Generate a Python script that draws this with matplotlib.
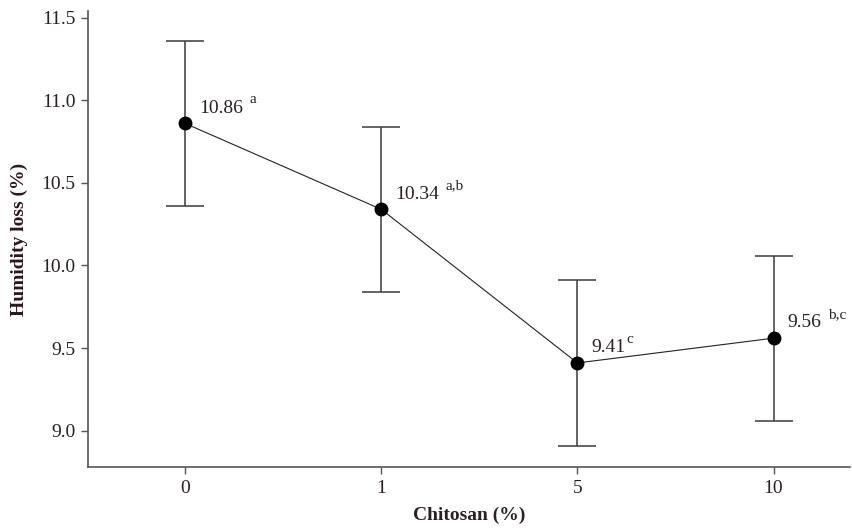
import numpy as np
import matplotlib
matplotlib.use("Agg")
import matplotlib.pyplot as plt

plt.rcParams['font.family'] = ['Liberation Serif', 'DejaVu Serif']

chitosan = ['0', '1', '5', '10']
humidity = [10.86, 10.34, 9.41, 9.56]
err = [0.5, 0.5, 0.5, 0.5]
letters = ['a', 'a,b', 'c', 'b,c']
gaps = [5, 5, 1, 5]

fig = plt.figure(figsize=(8.53, 5.28), dpi=100)
ax = fig.add_axes([0.1032, 0.1155, 0.8933, 0.8635])

x = np.arange(len(chitosan))
ax.errorbar(x, humidity, yerr=err, fmt='none', ecolor='#3a3a3a', elinewidth=1.1,
            capsize=14, capthick=1.1, zorder=1)
ax.plot(x, humidity, color='#222222', lw=0.8, zorder=2)
ax.plot(x, humidity, 'o', color='black', ms=9, zorder=3)

for xi, yi, lab, g in zip(x, humidity, letters, gaps):
    t = ax.annotate(f'{yi:.2f}', (xi, yi), xytext=(10, 11),
                    textcoords='offset points', ha='left', va='center',
                    fontsize=14, color='#2a2020')
    ax.annotate(lab, xy=(1, 0.6), xycoords=t, xytext=(g, 0),
                textcoords='offset points', ha='left', va='bottom',
                fontsize=11, color='#2a2020')

ax.set_xticks(x)
ax.set_xticklabels(chitosan)
ax.set_xlim(-0.495, 3.39)
ax.set_ylim(8.78, 11.54)
ax.set_yticks([9.0, 9.5, 10.0, 10.5, 11.0, 11.5])
ax.set_yticklabels(['9.0', '9.5', '10.0', '10.5', '11.0', '11.5'])

for s in ['top', 'right']:
    ax.spines[s].set_visible(False)
for s in ['left', 'bottom']:
    ax.spines[s].set_color('#555555')
    ax.spines[s].set_linewidth(1.2)

ax.tick_params(axis='both', direction='out', length=5, width=1, color='#555555',
               labelsize=14, labelcolor='#2a2020', pad=4)

ax.set_xlabel('Chitosan (%)', fontsize=14, fontweight='bold', color='#2a2020', labelpad=7)
ax.set_ylabel('Humidity loss (%)', fontsize=14, fontweight='bold', color='#2a1520', labelpad=10)

fig.savefig('out.png', dpi=100)
